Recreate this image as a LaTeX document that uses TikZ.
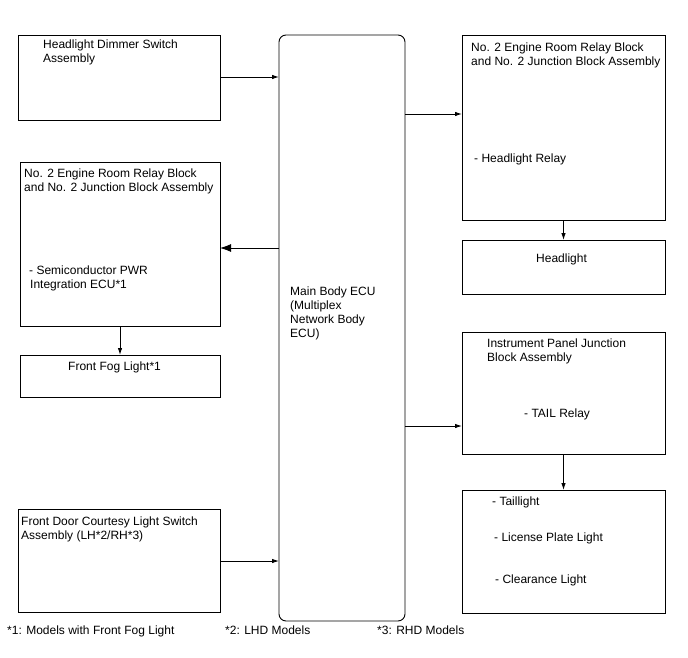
\documentclass[tikz,border=0pt]{standalone}
\usepackage{fontspec}
\setmainfont{Liberation Sans}
\usetikzlibrary{arrows.meta}
\begin{document}
\begin{tikzpicture}[x=1pt,y=-1pt,
  box/.style={draw=black,line width=0.9pt,rectangle,inner sep=0pt,outer sep=0pt},
  txt/.style={anchor=base west,inner sep=0pt,font=\fontsize{12}{14}\selectfont,text=black},
  arr/.style={line width=0.9pt,-{Latex[length=7pt,width=4.5pt]}},
  bigarr/.style={line width=0.9pt,-{Latex[length=11pt,width=8pt]}}]
\useasboundingbox (0,0) rectangle (688,658);
% boxes
\node[box,minimum width=202pt,minimum height=85pt] (hd) at (119,77.5) {};
\node[box,rounded corners=7pt,minimum width=126pt,minimum height=586pt] (ecu) at (342,328) {};
\node[box,minimum width=200pt,minimum height=164pt] (erl) at (120,244) {};
\node[box,minimum width=200pt,minimum height=42pt] (fog) at (120,376) {};
\node[box,minimum width=202pt,minimum height=103pt] (fd) at (119,560.5) {};
\node[box,minimum width=203pt,minimum height=185pt] (err) at (563.5,127.5) {};
\node[box,minimum width=203pt,minimum height=54pt] (hl) at (563.5,267) {};
\node[box,minimum width=203pt,minimum height=122pt] (ip) at (563.5,393) {};
\node[box,minimum width=203pt,minimum height=123pt] (tl) at (563.5,551.5) {};
% texts
\node[txt] (t1) at (43,49) {Headlight Dimmer Switch};
\node[txt] (t2) at (43,63) {Assembly};
\node[txt] (t3) at (24,177) {No. 2 Engine Room Relay Block};
\node[txt] (t4) at (24,191) {and No. 2 Junction Block Assembly};
\node[txt] (t5) at (29,274) {- Semiconductor PWR};
\node[txt] (t6) at (30,288) {Integration ECU*1};
\node[txt] (t7) at (68,370) {Front Fog Light*1};
\node[txt] (t8) at (21,525) {Front Door Courtesy Light Switch};
\node[txt] (t9) at (21,539) {Assembly (LH*2/RH*3)};
\node[txt] (t10) at (290,295) {Main Body ECU};
\node[txt] (t11) at (290,309) {(Multiplex};
\node[txt] (t12) at (290,323) {Network Body};
\node[txt] (t13) at (290,337) {ECU)};
\node[txt] (t14) at (471,52) {No. 2 Engine Room Relay Block};
\node[txt] (t15) at (471,66) {and No. 2 Junction Block Assembly};
\node[txt] (t16) at (474,163) {- Headlight Relay};
\node[txt] (t17) at (536,262) {Headlight};
\node[txt] (t18) at (487,347) {Instrument Panel Junction};
\node[txt] (t19) at (487,361) {Block Assembly};
\node[txt] (t20) at (524,417) {- TAIL Relay};
\node[txt] (t21) at (492,505) {- Taillight};
\node[txt] (t22) at (494,541) {- License Plate Light};
\node[txt] (t23) at (495,583) {- Clearance Light};
\node[txt] (f1) at (7,634) {*1: Models with Front Fog Light};
\node[txt] (f2) at (225,634) {*2: LHD Models};
\node[txt] (f3) at (377,634) {*3: RHD Models};
% connectors
\coordinate (y1) at (0,77);
\coordinate (y2) at (0,248);
\coordinate (y3) at (0,114);
\coordinate (y4) at (0,426);
\coordinate (y5) at (0,561);
\draw[arr] (hd.east |- y1) -- (ecu.west |- y1);
\draw[bigarr] (ecu.west |- y2) -- (erl.east |- y2);
\draw[arr] (erl.south) -- (fog.north);
\draw[arr] (fd.east |- y5) -- (ecu.west |- y5);
\draw[arr] (ecu.east |- y3) -- (err.west |- y3);
\draw[arr] (err.south) -- (hl.north);
\draw[arr] (ecu.east |- y4) -- (ip.west |- y4);
\draw[arr] (ip.south) -- (tl.north);
\end{tikzpicture}
\end{document}
